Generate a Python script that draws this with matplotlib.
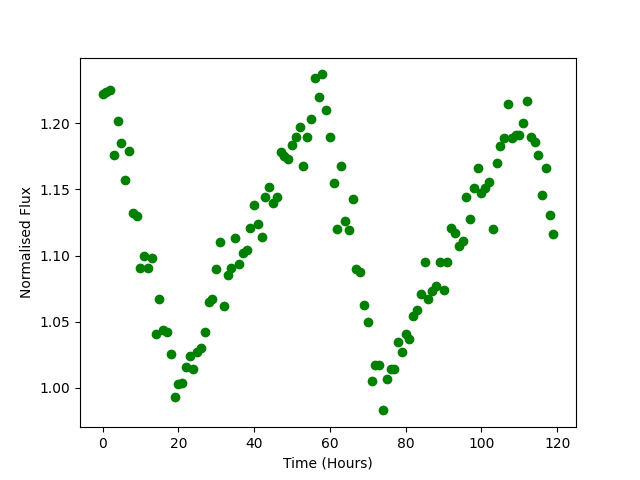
import numpy as np
import matplotlib
matplotlib.use("Agg")
import matplotlib.pyplot as plt

# tid i timmar, en mätning per timme
hours = np.arange(120)

flux = [
    1.222, 1.224, 1.225, 1.176, 1.202, 1.185, 1.157, 1.179, 1.132, 1.130,
    1.091, 1.100, 1.091, 1.098, 1.041, 1.067, 1.044, 1.042, 1.026, 0.993,
    1.003, 1.004, 1.016, 1.024, 1.014, 1.027, 1.030, 1.042, 1.065, 1.067,
    1.090, 1.110, 1.062, 1.085, 1.091, 1.113, 1.094, 1.102, 1.104, 1.121,
    1.138, 1.124, 1.114, 1.144, 1.152, 1.140, 1.144, 1.178, 1.175, 1.173,
    1.184, 1.190, 1.197, 1.168, 1.190, 1.203, 1.234, 1.220, 1.237, 1.210,
    1.190, 1.155, 1.120, 1.168, 1.126, 1.119, 1.143, 1.090, 1.088, 1.063,
    1.050, 1.005, 1.017, 1.017, 0.983, 1.007, 1.014, 1.014, 1.035, 1.027,
    1.041, 1.037, 1.054, 1.059, 1.071, 1.095, 1.067, 1.073, 1.077, 1.095,
    1.074, 1.095, 1.121, 1.117, 1.107, 1.111, 1.144, 1.128, 1.151, 1.166,
    1.147, 1.151, 1.156, 1.120, 1.170, 1.183, 1.189, 1.215, 1.189, 1.191,
    1.191, 1.200, 1.217, 1.190, 1.186, 1.176, 1.146, 1.166, 1.131, 1.116,
]

plt.figure(figsize=(6.4, 4.8), dpi=100)
plt.plot(hours, flux, 'o', color='green')
plt.xlabel("Time (Hours)")
plt.ylabel("Normalised Flux")
plt.savefig("out.png")
